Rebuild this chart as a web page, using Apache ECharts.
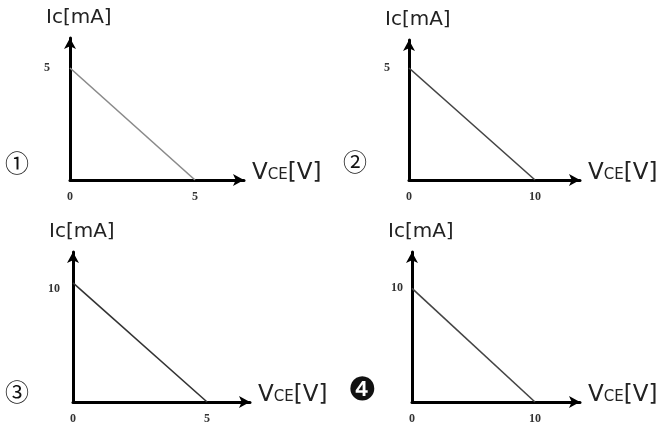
<!DOCTYPE html>
<html><head><meta charset="utf-8">
<script src="https://cdn.jsdelivr.net/npm/echarts@6/dist/echarts.min.js"></script>
<style>html,body{margin:0;padding:0;background:#fff}#c{width:671px;height:439px}</style>
</head><body><div id="c"></div>
<script>
// Data for the four load-line choices
const panelLabels = ['①', '②', '③', '❹'];
const vceIntercepts = [5, 10, 5, 10];   // V_CE where I_C = 0 [V]
const icIntercepts = [5, 5, 10, 10];    // I_C where V_CE = 0 [mA]
const yAxisName = 'Ic[mA]';
const xAxisName = 'VCE[V]';

// layout (pixels) — not data
const grids = [
  {left: 70, top: 38, width: 174, height: 142},
  {left: 409, top: 40, width: 171, height: 140},
  {left: 73, top: 252, width: 177, height: 150},
  {left: 412, top: 252, width: 168, height: 150}
];
const xMax = [6.96, 13.57, 6.6, 13.66];
const yMax = [6.34, 6.25, 12.6, 13.2];
const yMargin = [20, 19, 13, 9];
const yLabelAlign = ['middle', 'middle', 'top', 'middle'];
const lineColors = ['#8a8a8a', '#444', '#333', '#444'];
const labelCenter = [[17, 163], [355, 162], [17, 392], [362, 392]];
const labelSize = [24, 24, 24, 32];
const labelFamily = ['Noto Sans CJK JP', 'Noto Sans CJK JP', 'Noto Sans CJK JP', 'DejaVu Sans'];

const labelFont = {fontFamily: 'Liberation Serif', fontWeight: 'bold', fontSize: 12, color: '#333'};
const axisLine = {show: true, symbol: ['none', 'arrow'], symbolSize: [9, 11], lineStyle: {color: '#000', width: 3}};

const option = {
  animation: false,
  grid: grids.map(g => Object.assign({containLabel: false}, g)),
  xAxis: grids.map((g, i) => ({
    gridIndex: i, type: 'value', min: 0, max: xMax[i], interval: vceIntercepts[i],
    axisLine: axisLine, axisTick: {show: false}, splitLine: {show: false},
    axisLabel: Object.assign({margin: 11, showMaxLabel: false}, labelFont),
    name: '{a|' + xAxisName[0] + '}{b|' + xAxisName.slice(1, 3) + '}{a|' + xAxisName.slice(3) + '}',
    nameLocation: 'end', nameGap: 8,
    nameTextStyle: {padding: [0, 0, 14, 0], rich: {
      a: {fontFamily: 'DejaVu Sans', fontSize: 23, color: '#222', fontWeight: 'normal'},
      b: {fontFamily: 'DejaVu Sans', fontSize: 15, color: '#222', fontWeight: 'normal', padding: [5, 0, 0, 0]}
    }}
  })),
  yAxis: grids.map((g, i) => ({
    gridIndex: i, type: 'value', min: 0, max: yMax[i], interval: icIntercepts[i],
    axisLine: axisLine, axisTick: {show: false}, splitLine: {show: false},
    axisLabel: Object.assign({margin: yMargin[i], showMinLabel: false, showMaxLabel: false,
      verticalAlign: yLabelAlign[i]}, labelFont),
    name: yAxisName, nameLocation: 'end', nameGap: 10,
    nameTextStyle: {fontFamily: 'DejaVu Sans', fontSize: 20, color: '#222', align: 'left', padding: [0, 0, 0, -24]}
  })),
  series: grids.map((g, i) => ({
    type: 'line', xAxisIndex: i, yAxisIndex: i, symbol: 'none',
    lineStyle: {color: lineColors[i], width: 1.6},
    data: [[0, icIntercepts[i]], [vceIntercepts[i], 0]]
  })),
  graphic: panelLabels.map((t, i) => ({
    type: 'text', x: labelCenter[i][0], y: labelCenter[i][1],
    style: {text: t, fontFamily: labelFamily[i], fontSize: labelSize[i], fill: '#111', align: 'center', verticalAlign: 'middle'}
  }))
};

const chart = echarts.init(document.getElementById('c'), null, {renderer: 'canvas'});
chart.setOption(option);
</script></body></html>
